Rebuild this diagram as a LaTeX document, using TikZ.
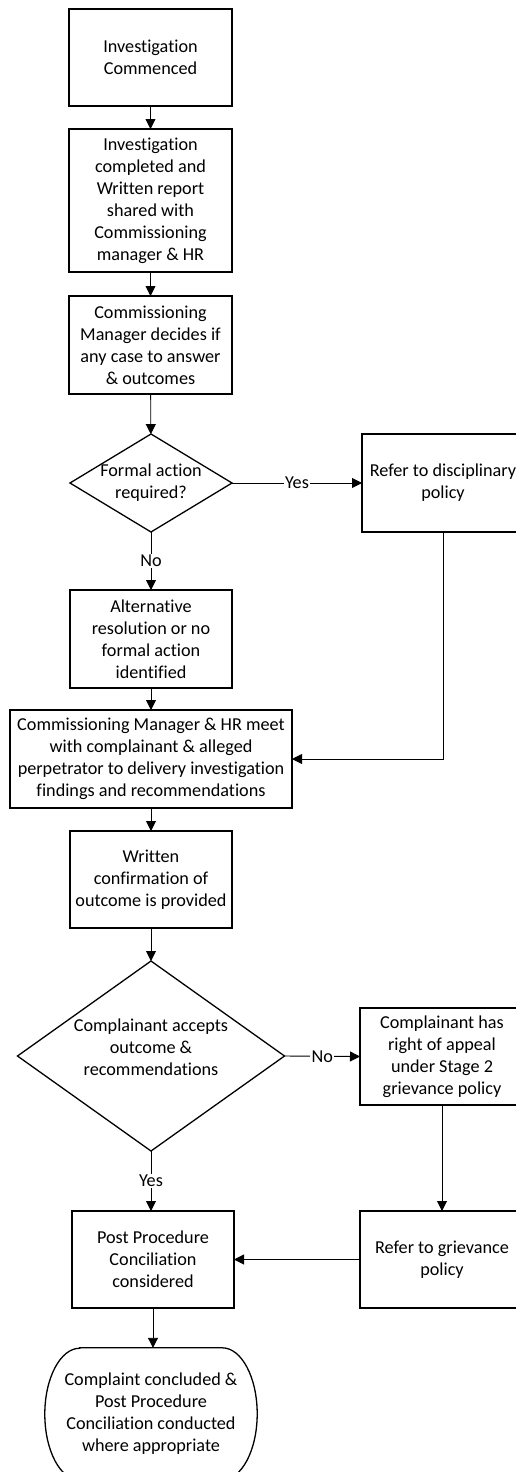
\documentclass[tikz,border=0pt]{standalone}
\usepackage{fontspec}
\setmainfont[Ligatures=NoCommon]{Carlito}
\usetikzlibrary{shapes.geometric,arrows.meta}
\tikzset{
  x=1pt,y=1pt,
  every node/.style={font=\fontsize{18.2}{22}\selectfont},
  stepbox/.style={draw, line width=1.3pt, rectangle, align=center, inner sep=0pt, outer sep=0pt},
  diam/.style={draw, line width=1.3pt, diamond, inner sep=0pt, outer sep=0pt},
  txt/.style={align=center, inner sep=0pt},
  conn/.style={line width=0.9pt, -{Triangle[length=10pt,width=10pt]}},
  lbl/.style={fill=white, inner sep=1.5pt}
}
\begin{document}
\begin{tikzpicture}
\useasboundingbox (0,0) rectangle (516,-1472);
\clip (0,0) rectangle (516,-1472);
% boxes
\node[stepbox, minimum width=163pt, minimum height=97pt] (b1) at (150.5,-57.5) {Investigation\\Commenced};
\node[stepbox, minimum width=163pt, minimum height=143pt] (b2) at (150.5,-200.5) {Investigation\\completed and\\Written report\\shared with\\Commissioning\\manager \& HR};
\node[stepbox, minimum width=163pt, minimum height=98pt] (b3) at (150.5,-345) {Commissioning\\Manager decides if\\any case to answer\\\& outcomes};
\node[diam, minimum width=162pt, minimum height=98pt] (d1) at (151,-483) {};
\node[txt] (d1t) at (151,-483) {Formal action\\required?};
\node[stepbox, minimum width=162pt, minimum height=98pt] (disc) at (443,-483) {Refer to disciplinary\\policy};
\node[stepbox, minimum width=162pt, minimum height=98pt] (alt) at (151,-639) {Alternative\\resolution or no\\formal action\\identified};
\node[stepbox, minimum width=282pt, minimum height=98pt] (meet) at (151,-759) {Commissioning Manager \& HR meet\\with complainant \& alleged\\perpetrator to delivery investigation\\findings and recommendations};
\node[stepbox, minimum width=162pt, minimum height=97pt] (wr) at (151,-879.5) {Written\\confirmation of\\outcome is provided};
\node[diam, minimum width=267pt, minimum height=190pt] (d2) at (151,-1056) {};
\node[txt] (d2t) at (151,-1047) {Complainant accepts\\outcome \&\\recommendations};
\node[stepbox, minimum width=164pt, minimum height=97pt] (comp) at (442,-1056.5) {Complainant has\\right of appeal\\under Stage 2\\grievance policy};
\node[stepbox, minimum width=164pt, minimum height=97pt] (griev) at (442,-1259.5) {Refer to grievance\\policy};
\node[stepbox, minimum width=162pt, minimum height=97pt] (post) at (153,-1259.5) {Post Procedure\\Conciliation\\considered};
\node[txt, minimum width=212pt, minimum height=132pt] (term) at (151,-1414) {Complaint concluded \&\\Post Procedure\\Conciliation conducted\\where appropriate};
\draw[line width=1.3pt] ([xshift=35pt]term.north west) -- ([xshift=-35pt]term.north east)
  arc[start angle=90,end angle=0,x radius=35pt,y radius=66pt]
  arc[start angle=0,end angle=-90,x radius=35pt,y radius=66pt]
  -- ([xshift=35pt]term.south west)
  arc[start angle=270,end angle=90,x radius=35pt,y radius=66pt]
  -- cycle;
% connectors
\draw[conn] (b1) -- (b2);
\draw[conn] (b2) -- (b3);
\draw[conn] (b3) -- (d1);
\draw[conn] (d1.east) -- node[lbl] (yes1) {Yes} (disc.west);
\draw[conn] (d1.south) -- node[lbl] (no1) {No} (alt.north);
\draw[conn] (alt) -- (meet);
\draw[conn] (disc.south) |- (meet.east);
\draw[conn] (meet.south) -- (wr.north);
\draw[conn] (wr) -- (d2.north);
\draw[conn] (d2.east) -- node[lbl] (no2) {No} (comp.west);
\draw[conn] (d2.south) -- node[lbl] (yes2) {Yes} (d2.south |- post.north);
\draw[conn] (comp) -- (griev);
\draw[conn] (griev.west) -- (post.east);
\draw[conn] (post.south) -- (term.north -| post.south);
\end{tikzpicture}
\end{document}
